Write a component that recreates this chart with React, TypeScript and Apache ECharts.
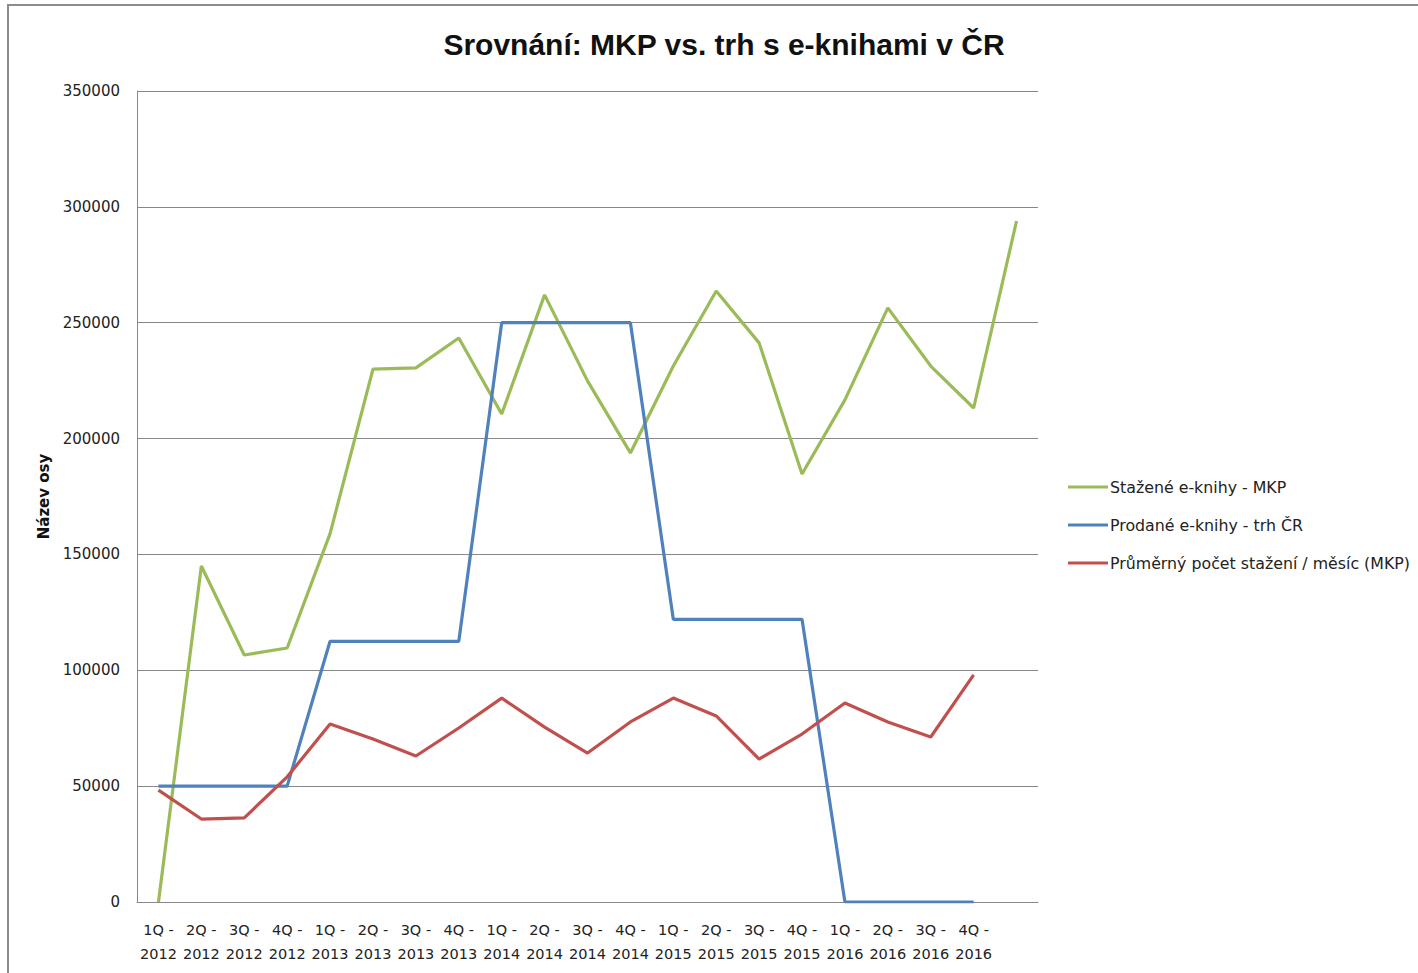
import React, { useEffect, useRef } from "react";
import * as echarts from "echarts";

const categories = [
  "1Q -\n2012", "2Q -\n2012", "3Q -\n2012", "4Q -\n2012",
  "1Q -\n2013", "2Q -\n2013", "3Q -\n2013", "4Q -\n2013",
  "1Q -\n2014", "2Q -\n2014", "3Q -\n2014", "4Q -\n2014",
  "1Q -\n2015", "2Q -\n2015", "3Q -\n2015", "4Q -\n2015",
  "1Q -\n2016", "2Q -\n2016", "3Q -\n2016", "4Q -\n2016",
  "",
];

const stazene = [
  0, 145000, 106600, 109600, 159000, 230000, 230500, 243400, 210600, 262000,
  224900, 193800, 231300, 263700, 241300, 184700, 216700, 256400, 231300, 213200, 293900,
];

const prodane = [
  50000, 50000, 50000, 50000, 112500, 112500, 112500, 112500, 250000, 250000,
  250000, 250000, 122000, 122000, 122000, 122000, 0, 0, 0, 0, null,
];

const prumerny = [
  48300, 35800, 36300, 54000, 76800, 70300, 63000, 75100, 88000, 75500,
  64300, 77700, 88000, 80300, 61700, 72500, 85900, 77700, 71200, 98000, null,
];

const seriesNames = [
  "Stažené e-knihy - MKP",
  "Prodané e-knihy - trh ČR",
  "Průměrný počet stažení / měsíc (MKP)",
];

const FONT = "'DejaVu Sans', sans-serif";

export default function App() {
  const ref = useRef<HTMLDivElement>(null);

  useEffect(() => {
    document.body.style.margin = "0";
    if (!ref.current) return;
    const chart = echarts.init(ref.current, null, { renderer: "svg" });
    const mk = (name: string, data: (number | null)[], color: string) => ({
      name,
      type: "line",
      data,
      symbol: "none",
      showSymbol: false,
      lineStyle: { color, width: 3.2 },
      itemStyle: { color },
    });
    chart.setOption({
      animation: false,
      backgroundColor: "#ffffff",
      title: {
        text: "Srovnání: MKP vs. trh s e-knihami v ČR",
        left: 719,
        top: 24,
        textAlign: "center",
        textStyle: {
          fontFamily: "'Liberation Sans', sans-serif",
          fontWeight: "bold",
          fontSize: 30,
          color: "#111",
        },
      },
      graphic: [
        {
          type: "rect",
          shape: { x: 8, y: 5, width: 1500, height: 1100 },
          style: { fill: "none", stroke: "#8c8c8c", lineWidth: 2 },
          silent: true,
        },
      ],
      legend: {
        orient: "vertical",
        left: 1068,
        top: 479,
        padding: 0,
        itemWidth: 40,
        itemHeight: 3,
        itemGap: 22,
        icon: "rect",
        data: seriesNames,
        textStyle: {
          fontFamily: FONT,
          fontSize: 15.8,
          color: "#222",
          padding: [0, 0, 0, -3],
        },
      },
      grid: { left: 137, right: 380, top: 91, bottom: 71, containLabel: false },
      xAxis: {
        type: "category",
        data: categories,
        boundaryGap: true,
        axisLine: { show: true, lineStyle: { color: "#888", width: 1 } },
        axisTick: { show: false },
        axisLabel: {
          interval: 0,
          fontFamily: FONT,
          fontSize: 14.5,
          color: "#222",
          lineHeight: 24,
          margin: 16,
        },
      },
      yAxis: {
        type: "value",
        min: 0,
        max: 350000,
        interval: 50000,
        name: "Název osy",
        nameLocation: "middle",
        nameGap: 86,
        nameTextStyle: {
          fontFamily: FONT,
          fontWeight: "bold",
          fontSize: 15,
          color: "#111",
        },
        axisLine: { show: true, lineStyle: { color: "#888", width: 1 } },
        axisTick: { show: false },
        splitLine: { show: true, lineStyle: { color: "#888", width: 1 } },
        axisLabel: {
          fontFamily: FONT,
          fontSize: 15,
          color: "#222",
          margin: 17,
          formatter: (v: number) => String(v),
        },
      },
      series: [
        mk(seriesNames[0], stazene, "#9bbb59"),
        mk(seriesNames[1], prodane, "#4f81bd"),
        mk(seriesNames[2], prumerny, "#c0504d"),
      ],
    });
    return () => chart.dispose();
  }, []);

  return <div ref={ref} style={{ width: 1418, height: 973 }} />;
}
